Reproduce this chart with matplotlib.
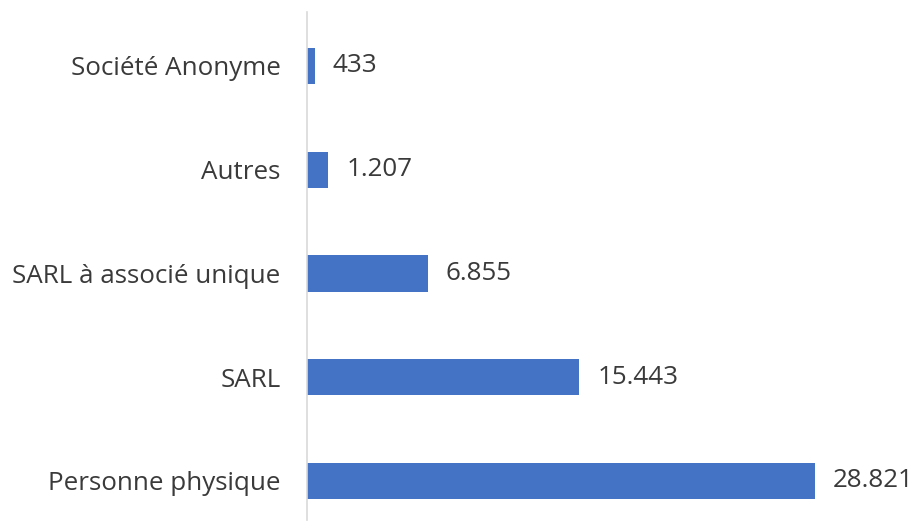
import matplotlib
matplotlib.use("Agg")
import matplotlib.pyplot as plt

categories = ["Personne physique", "SARL", "SARL à associé unique", "Autres", "Société Anonyme"]
values = [28821, 15443, 6855, 1207, 433]
labels = ["28.821", "15.443", "6.855", "1.207", "433"]

plt.rcParams['font.family'] = ['Open Sans', 'DejaVu Sans']
fig = plt.figure(figsize=(9.14, 5.26), dpi=100)
ax = fig.add_axes([307/914, 6/526, 508/914, 508/526])
ypos = list(range(len(categories)))
ax.barh(ypos, values, height=0.35, color="#4472C4")
ax.set_ylim(-0.376, 4.52)
ax.set_xlim(0, max(values))
ax.set_yticks(ypos)
ax.set_yticklabels(categories, fontsize=18.7, color="#3a3a3a")
ax.tick_params(axis='y', length=0, pad=19)
ax.set_xticks([])
for s in ["top", "right", "bottom"]:
    ax.spines[s].set_visible(False)
ax.spines["left"].set_color("#D9D9D9")
ax.spines["left"].set_linewidth(1.2)
for y, v, l in zip(ypos, values, labels):
    ax.annotate(l, (v, y), xytext=(18, 0), textcoords="offset pixels",
                va="center", ha="left", fontsize=18.7, color="#3a3a3a")
fig.savefig("out.png", dpi=100)
